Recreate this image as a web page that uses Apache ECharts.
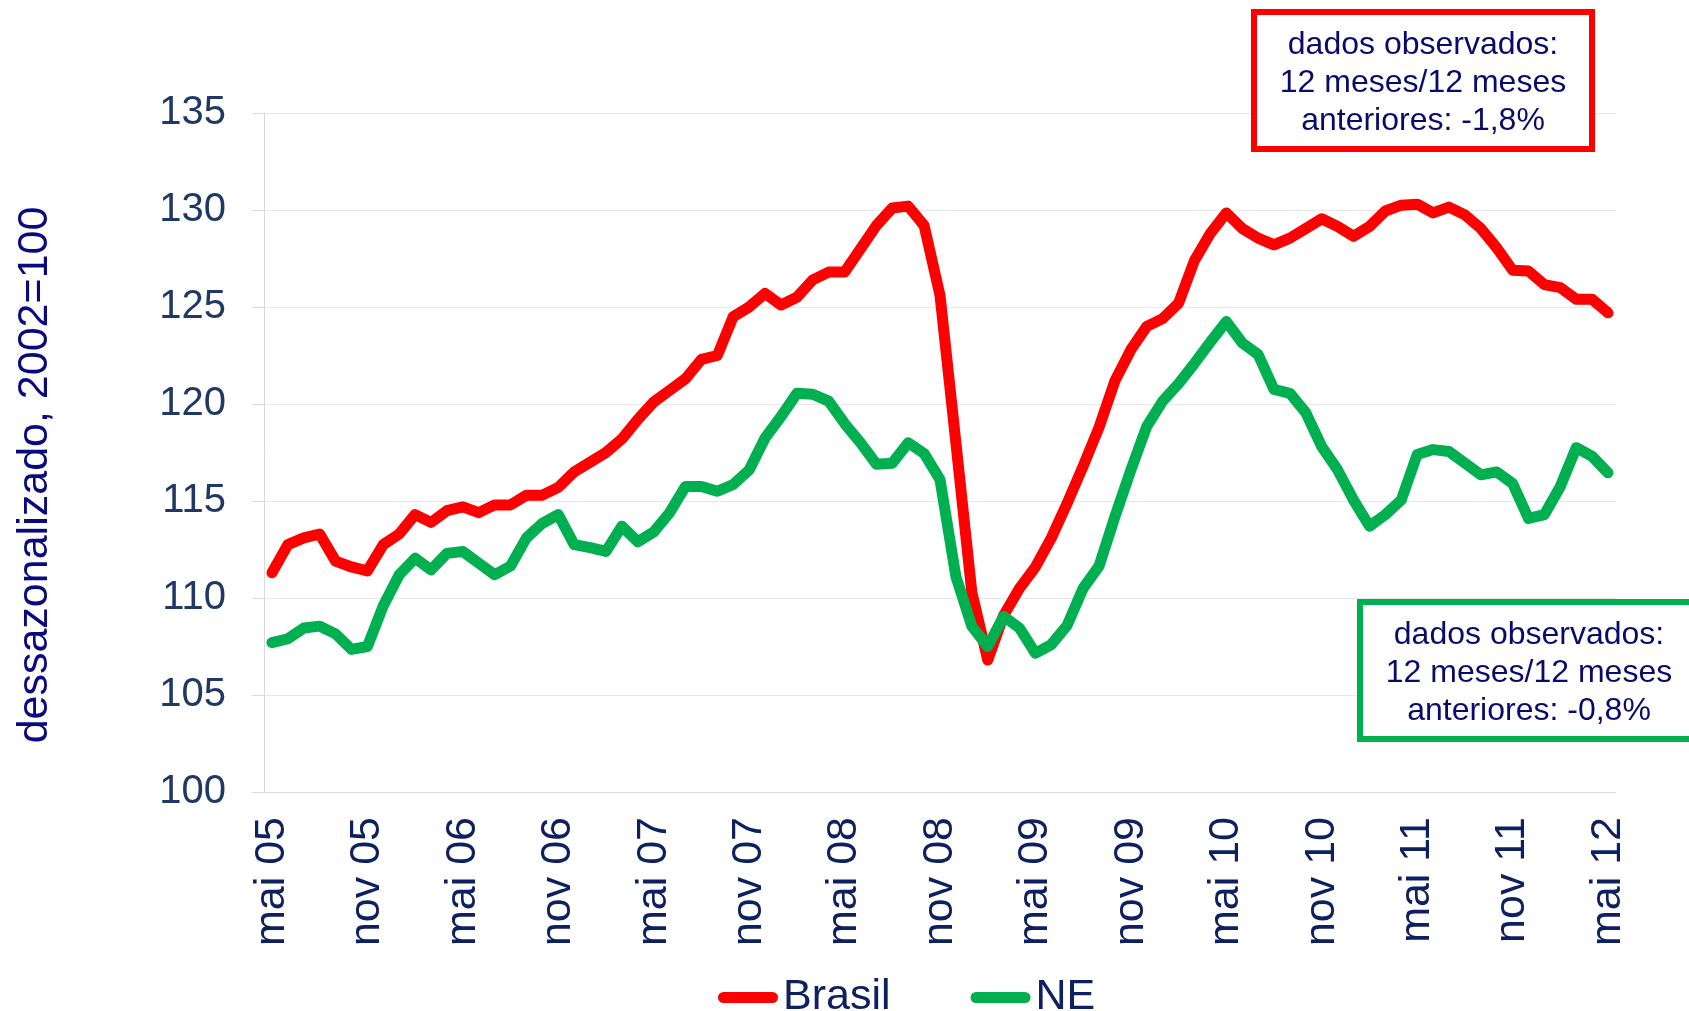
<!DOCTYPE html>
<html>
<head>
<meta charset="utf-8">
<script src="https://cdn.jsdelivr.net/npm/echarts@6/dist/echarts.min.js"></script>
<style>
  html, body { margin: 0; padding: 0; background: #fff; }
  #chart { width: 1689px; height: 1011px; }
</style>
</head>
<body>
<div id="chart"></div>
<script>
// month names used for the category labels (mai 05 .. mai 12)
const monthNames = ['jan', 'fev', 'mar', 'abr', 'mai', 'jun', 'jul', 'ago', 'set', 'out', 'nov', 'dez'];
const startYear = 2005, startMonth = 4, monthCount = 85;

const yTicks = { min: 100, max: 135, step: 5 };

// índice dessazonalizado, 2002=100
const brasil = [
  111.3, 112.75, 113.1, 113.3, 111.9, 111.6, 111.4, 112.75, 113.3, 114.3,
  113.9, 114.5, 114.7, 114.4, 114.8, 114.8, 115.3, 115.3, 115.7, 116.5,
  117.0, 117.5, 118.2, 119.2, 120.1, 120.7, 121.3, 122.3, 122.5, 124.5,
  125.0, 125.7, 125.1, 125.5, 126.4, 126.8, 126.8, 128.0, 129.2, 130.1,
  130.2, 129.2, 125.6, 118.0, 110.3, 106.8, 109.1, 110.5, 111.6, 113.1,
  114.9, 116.8, 118.8, 121.2, 122.8, 124.0, 124.4, 125.2, 127.4, 128.8,
  129.85, 129.05, 128.55, 128.2, 128.55, 129.05, 129.55, 129.15, 128.65, 129.15,
  129.95, 130.25, 130.3, 129.85, 130.15, 129.75, 129.05, 128.05, 126.9, 126.85,
  126.15, 126.0, 125.4, 125.4, 124.7
];
const ne = [
  107.7, 107.9, 108.45, 108.55, 108.15, 107.35, 107.5, 109.6, 111.2, 112.05,
  111.45, 112.3, 112.4, 111.8, 111.2, 111.65, 113.1, 113.85, 114.3, 112.75,
  112.6, 112.4, 113.7, 112.9, 113.4, 114.4, 115.75, 115.75, 115.5, 115.85,
  116.6, 118.25, 119.35, 120.55, 120.5, 120.15, 119.0, 118.0, 116.9, 116.95,
  118.0, 117.45, 116.1, 111.1, 108.55, 107.5, 109.05, 108.45, 107.15, 107.6,
  108.6, 110.5, 111.65, 114.2, 116.6, 118.85, 120.15, 121.05, 122.1, 123.2,
  124.25, 123.15, 122.55, 120.75, 120.55, 119.55, 117.8, 116.6, 115.05, 113.7,
  114.3, 115.05, 117.4, 117.65, 117.55, 116.95, 116.35, 116.5, 115.9, 114.1,
  114.3, 115.75, 117.75, 117.3, 116.45
];

const notes = {
  brasil: ['dados observados:', '12 meses/12 meses', 'anteriores: -1,8%'],
  ne: ['dados observados:', '12 meses/12 meses', 'anteriores: -0,8%']
};
const yTitle = 'dessazonalizado, 2002=100';

const categories = [];
for (let k = 0; k < monthCount; k++) {
  const m = (startMonth + k) % 12;
  const y = startYear + Math.floor((startMonth + k) / 12);
  categories.push(monthNames[m] + ' ' + String(y % 100).padStart(2, '0'));
}

const FONT = 'Liberation Sans, Arial, sans-serif';
const RED = '#ff0000';
const GREEN = '#00b050';

function noteBox(x, y, color, lines) {
  return [
    {
      type: 'rect', z: 10,
      shape: { x: x, y: y, width: 338, height: 137 },
      style: { fill: '#fff', stroke: color, lineWidth: 6 }
    },
    {
      type: 'text', z: 11,
      x: x + 169, y: y + 71,
      style: {
        text: lines.join('\n'),
        font: '32px ' + FONT,
        fill: '#0a0a6e',
        align: 'center',
        verticalAlign: 'middle',
        lineHeight: 38
      }
    }
  ];
}

const chart = echarts.init(document.getElementById('chart'));

chart.setOption({
  animation: false,
  backgroundColor: '#fff',
  grid: { left: 264, right: 73, top: 113, bottom: 219 },
  legend: {
    left: 713, top: 971,
    itemWidth: 60, itemHeight: 11, itemGap: 80,
    icon: 'path://M5.5,0 H54.5 A5.5,5.5 0 0 1 54.5,11 H5.5 A5.5,5.5 0 0 1 5.5,0 Z',
    textStyle: { fontFamily: FONT, fontSize: 43, color: '#0d2060' },
    data: ['Brasil', 'NE']
  },
  xAxis: {
    type: 'category',
    data: categories,
    boundaryGap: true,
    axisLine: { lineStyle: { color: '#d9d9d9', width: 1 } },
    axisTick: { interval: 5, length: 8, lineStyle: { color: '#d9d9d9' } },
    axisLabel: {
      interval: 5, rotate: 90, margin: 25,
      fontFamily: FONT, fontSize: 43, color: '#0d2060'
    },
    splitLine: { show: false }
  },
  yAxis: {
    type: 'value',
    min: yTicks.min, max: yTicks.max, interval: yTicks.step,
    axisLine: { show: true, lineStyle: { color: '#d9d9d9', width: 1 } },
    axisTick: { show: true, length: 12, lineStyle: { color: '#d9d9d9' } },
    axisLabel: { margin: 38, fontFamily: FONT, fontSize: 40, color: '#1f3864' },
    splitLine: { lineStyle: { color: '#e8e8e8', width: 1 } }
  },
  series: [
    {
      name: 'Brasil', type: 'line', data: brasil,
      showSymbol: false, symbol: 'none',
      itemStyle: { color: RED },
      lineStyle: { color: RED, width: 11, cap: 'round', join: 'round' }
    },
    {
      name: 'NE', type: 'line', data: ne,
      showSymbol: false, symbol: 'none',
      itemStyle: { color: GREEN },
      lineStyle: { color: GREEN, width: 11, cap: 'round', join: 'round' }
    }
  ],
  graphic: [].concat(
    [{
      type: 'text',
      x: 35, y: 475,
      rotation: Math.PI / 2,
      style: {
        text: yTitle,
        font: '43px ' + FONT,
        fill: '#0a0a80',
        align: 'center',
        verticalAlign: 'middle'
      }
    }],
    noteBox(1254, 12, RED, notes.brasil),
    noteBox(1360, 602, GREEN, notes.ne)
  )
});

window.addEventListener('resize', function () {
  chart.resize();
});
</script>
</body>
</html>
